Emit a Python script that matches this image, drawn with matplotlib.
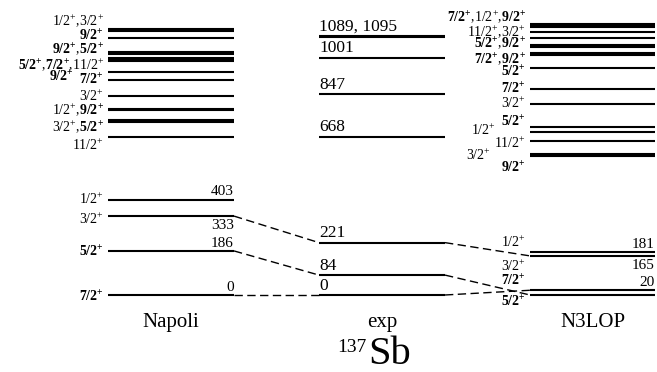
import matplotlib
matplotlib.use("Agg")
import matplotlib.pyplot as plt

plt.rcParams['font.family'] = ['Liberation Serif', 'DejaVu Serif']
plt.rcParams['mathtext.fontset'] = 'custom'
plt.rcParams['mathtext.rm'] = 'Liberation Serif'
plt.rcParams['mathtext.bf'] = 'Liberation Serif:bold'

# --- data (keV) ---
napoli_E = [0, 186, 333, 403, 665, 730, 738, 779, 787, 838, 909, 943,
            988, 994, 1000, 1017, 1025, 1084, 1116, 1124]
exp_E = [0, 84, 221, 668, 847, 1001, 1089, 1095]
n3lop_E = [0, 20, 165, 181, 587, 595, 651, 690, 711, 805, 870, 958,
           1012, 1020, 1048, 1056, 1084, 1108, 1132, 1138, 1144]

# energy labels on the low levels ("*" = written below the line)
napoli_num = [403, "*333", 186, 0]
n3lop_num = [181, "*165", 20]
exp_num = ["0", "84", "221", "668", "847", "1001", "1089, 1095"]
exp_num_E = [0, 84, 221, 668, 847, 1001, 1095]

# spin labels ("*" = bold), with the energy where the label sits
napoli_spins = ["1/2,3/2", "*9/2", "*9/2,*5/2", "*5/2,*7/2,11/2", "*9/2", "*7/2",
                "3/2", "1/2,*9/2", "3/2,*5/2", "11/2",
                "1/2", "3/2", "*5/2", "*7/2"]
napoli_spin_E = [1160, 1093, 1034, 972, 918, 905, 840, 781, 709, 633,
                 403, 321, 182, -8]
napoli_spin_dx = [0, 0, 0, 0, -30, 0, 0, 0, 0, 0, 0, 0, 0, 0]

n3lop_spins = ["*7/2,1/2,*9/2", "11/2,3/2", "*5/2,*9/2", "*7/2,*9/2", "*5/2", "*7/2",
               "3/2", "*5/2", "1/2", "11/2", "3/2", "*9/2",
               "1/2", "3/2", "*7/2", "*5/2"]
n3lop_spin_E = [1175, 1113, 1060, 994, 941, 871, 808, 730, 696, 641, 591, 536,
                224, 122, 59, -30]
n3lop_spin_dx = [0, 0, 0, 0, 0, 0, 0, 0, -30, 0, -35, 0, 0, 0, 0, 0]

# dashed links (energies)
links_napoli_exp = [(0, 0), (186, 84), (333, 221)]
links_exp_n3lop = [(0, 20), (84, 0), (221, 165)]

# --- layout ---
cols = {"Napoli": (108, 234), "exp": (319, 445), "N3LOP": (530, 655)}


def spin_tex(s):
    parts = []
    for p in s.split(","):
        if p.startswith("*"):
            parts.append(r"\mathbf{%s^{+}}" % p[1:])
        else:
            parts.append(r"\mathrm{%s^{+}}" % p)
    return "$" + r"\mathrm{,}".join(parts) + "$"


fig = plt.figure(figsize=(6.57, 3.72), dpi=100)
ax = fig.add_axes([0, 0, 1, 1])
ax.set_xlim(0, 657)
ax.set_ylim(-325, 1245)
ax.axis("off")

for name, levels in [("Napoli", napoli_E), ("exp", exp_E), ("N3LOP", n3lop_E)]:
    x0, x1 = cols[name]
    ax.hlines(levels, x0, x1, color="black", lw=1.5)
    ax.text((x0 + x1) / 2, -135, name, ha="center", va="baseline", fontsize=15)

for a, b in links_napoli_exp:
    ax.plot([cols["Napoli"][1], cols["exp"][0]], [a, b], color="black",
            lw=1.0, ls=(0, (6, 3.2)))
for a, b in links_exp_n3lop:
    ax.plot([cols["exp"][1], cols["N3LOP"][0]], [a, b], color="black",
            lw=1.0, ls=(0, (6, 3.2)))

# energy numbers
for name, nums in [("Napoli", napoli_num), ("N3LOP", n3lop_num)]:
    x1 = cols[name][1]
    for n in nums:
        s = str(n)
        below = s.startswith("*")
        s = s.lstrip("*")
        ax.annotate(s, xy=(x1, int(s)), xytext=(0, -2 if below else 1),
                    textcoords="offset points", ha="right",
                    va="top" if below else "bottom", fontsize=11)

for s, e in zip(exp_num, exp_num_E):
    ax.annotate(s, xy=(cols["exp"][0], e), xytext=(0, 1),
                textcoords="offset points", ha="left", va="bottom", fontsize=12.5)

# spin labels
for name, spins, ys, dxs in [("Napoli", napoli_spins, napoli_spin_E, napoli_spin_dx),
                             ("N3LOP", n3lop_spins, n3lop_spin_E, n3lop_spin_dx)]:
    x0 = cols[name][0]
    for s, y, dx in zip(spins, ys, dxs):
        ax.text(x0 - 4 + dx, y, spin_tex(s), ha="right", va="center", fontsize=10)

# nucleus name
ax.text(368, -290, "Sb", ha="left", va="baseline", fontsize=29)
ax.text(367, -240, "137", ha="right", va="baseline", fontsize=14)

fig.savefig("out.png", dpi=100)
